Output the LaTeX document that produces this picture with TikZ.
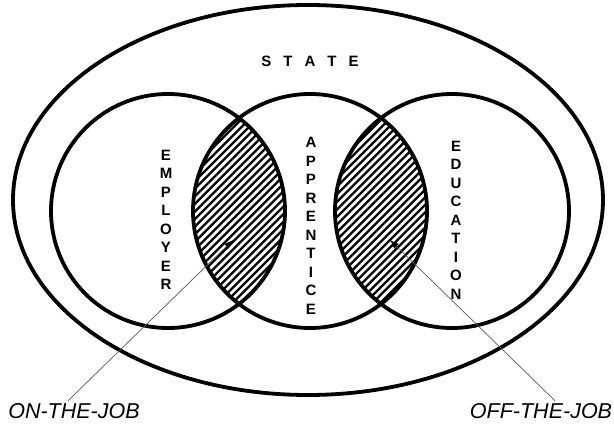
\documentclass[tikz,border=0pt]{standalone}
\usepackage{fontspec}
\setmainfont{Liberation Sans}
\usetikzlibrary{arrows.meta}
\begin{document}
\begin{tikzpicture}[x=1pt,y=-1pt,
  ring/.style={line width=3.8pt},
  hatchline/.style={line width=2.3pt},
  pointer/.style={draw=black!65, line width=0.7pt, -{Latex[length=9pt,width=6.5pt,color=black]}},
  vlabel/.style={font=\bfseries\fontsize{15}{18.5}\selectfont, align=center, inner sep=0pt},
  jobtext/.style={font=\itshape\fontsize{21.5}{24}\selectfont, inner sep=0pt, anchor=base}]
\useasboundingbox (0,0) rectangle (614,425);
\coordinate (C) at (308,200);
\coordinate (L) at (168,211);
\coordinate (M) at (310,211);
\coordinate (R) at (452,211);
\def\rad{117}
% hatching of the two lenses
\begin{scope}
  \clip (L) circle (\rad);
  \clip (M) circle (\rad);
  \foreach \k in {0,...,45} \draw[hatchline] (150,150+7.6*\k) -- ++(220,-220);
\end{scope}
\begin{scope}
  \clip (M) circle (\rad);
  \clip (R) circle (\rad);
  \foreach \k in {0,...,45} \draw[hatchline] (290,150+7.6*\k) -- ++(220,-220);
\end{scope}
% outer ellipse and circles
\draw[ring] (C) ellipse [x radius=295, y radius=195];
\draw[ring] (L) circle (\rad);
\draw[ring] (M) circle (\rad);
\draw[ring] (R) circle (\rad);
% labels
\node[font=\bfseries\fontsize{15}{15}\selectfont, inner sep=0pt] (state) at (310,61)
  {S\hspace{12pt}T\hspace{12pt}A\hspace{12pt}T\hspace{12pt}E};
\node[vlabel] (employer) at (166,220) {E\\M\\P\\L\\O\\Y\\E\\R};
\node[vlabel] (apprentice) at (311,226) {A\\P\\P\\R\\E\\N\\T\\I\\C\\E};
\node[vlabel] (education) at (456,220) {E\\D\\U\\C\\A\\T\\I\\O\\N};
\node[jobtext] (onjob) at (74,418) {ON-THE-JOB};
\node[jobtext] (offjob) at (541,418) {OFF-THE-JOB};
% pointers
\coordinate (tip1) at (233,240);
\coordinate (tip2) at (390,240);
\draw[pointer] ([xshift=-6pt,yshift=2pt]onjob.north) -- (tip1);
\draw[pointer] ([xshift=14pt,yshift=2pt]offjob.north) -- (tip2);
\end{tikzpicture}
\end{document}
